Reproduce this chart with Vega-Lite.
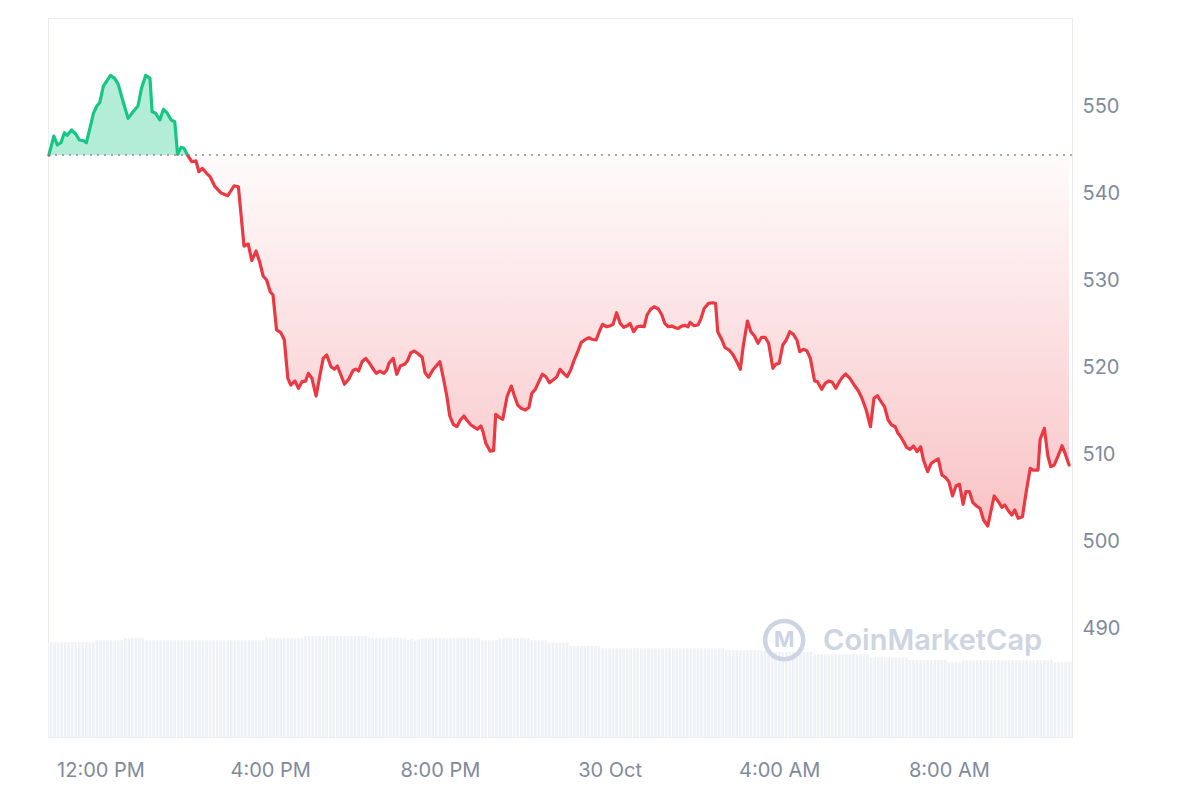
{
  "$schema": "https://vega.github.io/schema/vega-lite/v6.json",
  "width": 1024,
  "height": 719,
  "padding": {"left": 47, "top": 18, "right": 0, "bottom": 0},
  "background": "white",
  "datasets": {
    "price": [
      {"minute":647,"p":544.43},{"minute":654,"p":546.61},{"minute":659,"p":545.58},{"minute":664,"p":545.84},{"minute":669,"p":546.99},{"minute":673,"p":546.69},{"minute":679,"p":547.30},{"minute":685,"p":546.84},{"minute":690,"p":546.15},{"minute":696,"p":546.07},{"minute":700,"p":545.84},{"minute":705,"p":547.50},{"minute":710,"p":549.22},{"minute":715,"p":550.09},{"minute":719,"p":550.44},{"minute":724,"p":552.35},{"minute":729,"p":552.93},{"minute":734,"p":553.58},{"minute":740,"p":553.24},{"minute":745,"p":552.58},{"minute":752,"p":550.55},{"minute":759,"p":548.64},{"minute":766,"p":549.40},{"minute":773,"p":550.06},{"minute":778,"p":552.09},{"minute":784,"p":553.58},{"minute":790,"p":553.24},{"minute":793,"p":549.40},{"minute":798,"p":549.22},{"minute":804,"p":548.45},{"minute":809,"p":549.68},{"minute":814,"p":549.29},{"minute":820,"p":548.45},{"minute":825,"p":548.25},{"minute":829,"p":544.51},{"minute":834,"p":545.31},{"minute":838,"p":545.20},{"minute":844,"p":544.30},{"minute":849,"p":543.66},{"minute":855,"p":543.77},{"minute":859,"p":542.51},{"minute":864,"p":542.90},{"minute":870,"p":542.33},{"minute":875,"p":541.94},{"minute":882,"p":540.79},{"minute":890,"p":540.10},{"minute":900,"p":539.75},{"minute":909,"p":540.90},{"minute":915,"p":540.79},{"minute":923,"p":533.97},{"minute":929,"p":534.20},{"minute":934,"p":532.29},{"minute":940,"p":533.40},{"minute":945,"p":532.17},{"minute":950,"p":530.53},{"minute":955,"p":530.07},{"minute":960,"p":528.72},{"minute":964,"p":528.35},{"minute":969,"p":524.33},{"minute":975,"p":524.02},{"minute":980,"p":523.18},{"minute":985,"p":518.78},{"minute":989,"p":518.01},{"minute":995,"p":518.47},{"minute":1000,"p":517.63},{"minute":1005,"p":518.39},{"minute":1010,"p":518.45},{"minute":1014,"p":519.35},{"minute":1019,"p":518.78},{"minute":1025,"p":516.74},{"minute":1030,"p":518.96},{"minute":1035,"p":521.07},{"minute":1040,"p":521.45},{"minute":1046,"p":520.11},{"minute":1051,"p":519.81},{"minute":1055,"p":520.19},{"minute":1060,"p":519.16},{"minute":1065,"p":518.09},{"minute":1071,"p":518.66},{"minute":1077,"p":519.65},{"minute":1081,"p":519.84},{"minute":1085,"p":519.61},{"minute":1090,"p":520.68},{"minute":1095,"p":521.07},{"minute":1100,"p":520.57},{"minute":1105,"p":519.93},{"minute":1110,"p":519.35},{"minute":1115,"p":519.61},{"minute":1121,"p":519.35},{"minute":1125,"p":519.73},{"minute":1128,"p":520.50},{"minute":1134,"p":521.07},{"minute":1139,"p":519.24},{"minute":1144,"p":520.19},{"minute":1150,"p":520.38},{"minute":1154,"p":520.76},{"minute":1159,"p":521.72},{"minute":1164,"p":521.91},{"minute":1170,"p":521.53},{"minute":1175,"p":521.19},{"minute":1179,"p":519.42},{"minute":1184,"p":518.89},{"minute":1190,"p":519.73},{"minute":1196,"p":520.30},{"minute":1200,"p":520.68},{"minute":1205,"p":518.78},{"minute":1210,"p":516.66},{"minute":1214,"p":514.45},{"minute":1219,"p":513.49},{"minute":1224,"p":513.22},{"minute":1229,"p":513.99},{"minute":1234,"p":514.45},{"minute":1238,"p":513.99},{"minute":1244,"p":513.41},{"minute":1249,"p":513.15},{"minute":1253,"p":512.92},{"minute":1258,"p":513.30},{"minute":1261,"p":512.64},{"minute":1265,"p":511.31},{"minute":1271,"p":510.42},{"minute":1276,"p":510.46},{"minute":1279,"p":514.64},{"minute":1284,"p":514.30},{"minute":1289,"p":514.07},{"minute":1295,"p":516.66},{"minute":1301,"p":517.89},{"minute":1305,"p":516.86},{"minute":1310,"p":515.71},{"minute":1315,"p":515.33},{"minute":1321,"p":515.13},{"minute":1326,"p":515.44},{"minute":1330,"p":517.05},{"minute":1335,"p":517.51},{"minute":1340,"p":518.39},{"minute":1345,"p":519.24},{"minute":1350,"p":518.96},{"minute":1355,"p":518.27},{"minute":1360,"p":518.58},{"minute":1365,"p":518.89},{"minute":1370,"p":519.81},{"minute":1375,"p":519.35},{"minute":1380,"p":518.96},{"minute":1385,"p":519.73},{"minute":1390,"p":520.88},{"minute":1395,"p":521.83},{"minute":1400,"p":522.91},{"minute":1407,"p":523.29},{"minute":1411,"p":523.44},{"minute":1415,"p":523.26},{"minute":1421,"p":523.18},{"minute":1426,"p":524.24},{"minute":1430,"p":524.98},{"minute":1436,"p":524.70},
      {"minute":1441,"p":524.82},{"minute":1445,"p":524.98},{"minute":1450,"p":526.31},{"minute":1455,"p":525.09},{"minute":1460,"p":524.64},{"minute":1465,"p":524.82},{"minute":1469,"p":525.09},{"minute":1474,"p":524.13},{"minute":1479,"p":524.70},{"minute":1484,"p":524.78},{"minute":1489,"p":524.70},{"minute":1493,"p":526.05},{"minute":1498,"p":526.70},{"minute":1503,"p":527.00},{"minute":1509,"p":526.74},{"minute":1514,"p":526.05},{"minute":1518,"p":525.09},{"minute":1523,"p":524.70},{"minute":1528,"p":524.78},{"minute":1533,"p":524.59},{"minute":1537,"p":524.52},{"minute":1542,"p":524.78},{"minute":1547,"p":524.86},{"minute":1551,"p":524.70},{"minute":1554,"p":525.21},{"minute":1559,"p":524.82},{"minute":1565,"p":524.90},{"minute":1569,"p":525.55},{"minute":1574,"p":526.82},{"minute":1580,"p":527.39},{"minute":1586,"p":527.46},{"minute":1590,"p":527.39},{"minute":1593,"p":524.13},{"minute":1599,"p":523.18},{"minute":1603,"p":522.34},{"minute":1609,"p":522.03},{"minute":1614,"p":521.57},{"minute":1620,"p":520.68},{"minute":1625,"p":519.81},{"minute":1629,"p":522.41},{"minute":1635,"p":525.36},{"minute":1640,"p":524.13},{"minute":1645,"p":523.64},{"minute":1650,"p":522.80},{"minute":1655,"p":523.49},{"minute":1660,"p":523.49},{"minute":1665,"p":522.80},{"minute":1671,"p":519.93},{"minute":1675,"p":520.38},{"minute":1680,"p":520.50},{"minute":1685,"p":522.60},{"minute":1690,"p":523.18},{"minute":1695,"p":524.13},{"minute":1700,"p":523.83},{"minute":1705,"p":523.18},{"minute":1709,"p":521.83},{"minute":1714,"p":522.11},{"minute":1719,"p":521.95},{"minute":1724,"p":521.07},{"minute":1730,"p":518.47},{"minute":1734,"p":518.39},{"minute":1740,"p":517.51},{"minute":1745,"p":518.20},{"minute":1750,"p":518.47},{"minute":1755,"p":518.32},{"minute":1760,"p":517.63},{"minute":1765,"p":518.39},{"minute":1770,"p":518.96},{"minute":1774,"p":519.27},{"minute":1780,"p":518.78},{"minute":1786,"p":518.01},{"minute":1792,"p":517.32},{"minute":1797,"p":516.48},{"minute":1803,"p":515.13},{"minute":1809,"p":513.22},{"minute":1814,"p":516.48},{"minute":1819,"p":516.78},{"minute":1824,"p":516.09},{"minute":1829,"p":515.51},{"minute":1834,"p":513.99},{"minute":1839,"p":513.41},{"minute":1844,"p":513.22},{"minute":1848,"p":512.46},{"minute":1851,"p":512.15},{"minute":1856,"p":511.49},{"minute":1860,"p":510.85},{"minute":1865,"p":510.62},{"minute":1870,"p":511.00},{"minute":1875,"p":510.35},{"minute":1880,"p":510.92},{"minute":1884,"p":509.39},{"minute":1890,"p":508.05},{"minute":1895,"p":509.01},{"minute":1900,"p":509.28},{"minute":1905,"p":509.51},{"minute":1910,"p":507.67},{"minute":1915,"p":507.40},{"minute":1920,"p":506.90},{"minute":1925,"p":505.26},{"minute":1930,"p":506.40},{"minute":1935,"p":506.60},{"minute":1940,"p":504.30},{"minute":1944,"p":505.75},{"minute":1949,"p":505.75},{"minute":1954,"p":504.49},{"minute":1959,"p":504.11},{"minute":1964,"p":503.84},{"minute":1969,"p":502.50},{"minute":1975,"p":501.81},{"minute":1980,"p":503.73},{"minute":1984,"p":505.26},{"minute":1989,"p":504.72},{"minute":1995,"p":503.96},{"minute":1999,"p":504.22},{"minute":2004,"p":503.57},{"minute":2009,"p":503.07},{"minute":2013,"p":503.65},{"minute":2018,"p":502.69},{"minute":2024,"p":502.88},{"minute":2029,"p":505.57},{"minute":2035,"p":508.44},{"minute":2039,"p":508.24},{"minute":2046,"p":508.24},{"minute":2049,"p":511.77},{"minute":2055,"p":513.03},{"minute":2060,"p":509.85},{"minute":2064,"p":508.62},{"minute":2069,"p":508.82},{"minute":2074,"p":509.77},{"minute":2080,"p":511.03},{"minute":2084,"p":510.23},{"minute":2090,"p":508.82}
    ],
    "volume": [
      {"minute":645,"v":131.7},{"minute":650,"v":131.7},{"minute":655,"v":131.7},{"minute":660,"v":131.7},{"minute":665,"v":131.7},{"minute":670,"v":131.7},{"minute":675,"v":131.7},{"minute":680,"v":131.7},{"minute":685,"v":131.7},{"minute":690,"v":131.7},{"minute":695,"v":131.7},{"minute":700,"v":131.7},{"minute":705,"v":131.7},{"minute":710,"v":131.7},
      {"minute":715,"v":134.5},{"minute":720,"v":134.5},{"minute":725,"v":134.5},{"minute":730,"v":134.5},{"minute":735,"v":134.5},{"minute":740,"v":134.5},{"minute":745,"v":134.5},{"minute":750,"v":134.5},
      {"minute":755,"v":137.3},{"minute":760,"v":137.3},{"minute":765,"v":137.3},{"minute":770,"v":137.3},{"minute":775,"v":137.3},{"minute":780,"v":137.3},
      {"minute":785,"v":134.5},{"minute":790,"v":134.5},{"minute":795,"v":134.5},{"minute":800,"v":134.5},{"minute":805,"v":134.5},{"minute":810,"v":134.5},{"minute":815,"v":134.5},{"minute":820,"v":134.5},{"minute":825,"v":134.5},{"minute":830,"v":134.5},{"minute":835,"v":134.5},{"minute":840,"v":134.5},{"minute":845,"v":134.5},{"minute":850,"v":134.5},{"minute":855,"v":134.5},{"minute":860,"v":134.5},{"minute":865,"v":134.5},{"minute":870,"v":134.5},{"minute":875,"v":134.5},{"minute":880,"v":134.5},{"minute":885,"v":134.5},{"minute":890,"v":134.5},{"minute":895,"v":134.5},{"minute":900,"v":134.5},{"minute":905,"v":134.5},{"minute":910,"v":134.5},{"minute":915,"v":134.5},{"minute":920,"v":134.5},{"minute":925,"v":134.5},{"minute":930,"v":134.5},{"minute":935,"v":134.5},{"minute":940,"v":134.5},{"minute":945,"v":134.5},{"minute":950,"v":134.5},
      {"minute":955,"v":137.3},{"minute":960,"v":137.3},{"minute":965,"v":137.3},{"minute":970,"v":137.3},{"minute":975,"v":137.3},{"minute":980,"v":137.3},{"minute":985,"v":137.3},{"minute":990,"v":137.3},{"minute":995,"v":137.3},{"minute":1000,"v":137.3},{"minute":1005,"v":137.3},
      {"minute":1010,"v":140.5},{"minute":1015,"v":140.5},{"minute":1020,"v":140.5},{"minute":1025,"v":140.5},{"minute":1030,"v":140.5},{"minute":1035,"v":140.5},{"minute":1040,"v":140.5},{"minute":1045,"v":140.5},{"minute":1050,"v":140.5},{"minute":1055,"v":140.5},{"minute":1060,"v":140.5},{"minute":1065,"v":140.5},{"minute":1070,"v":140.5},{"minute":1075,"v":140.5},{"minute":1080,"v":140.5},{"minute":1085,"v":140.5},{"minute":1090,"v":140.5},{"minute":1095,"v":140.5},
      {"minute":1100,"v":138.1},{"minute":1105,"v":138.1},{"minute":1110,"v":138.1},{"minute":1115,"v":138.1},{"minute":1120,"v":138.1},{"minute":1125,"v":138.1},{"minute":1130,"v":138.1},{"minute":1135,"v":138.1},{"minute":1140,"v":138.1},{"minute":1145,"v":138.1},
      {"minute":1150,"v":137.0},{"minute":1155,"v":135.0},{"minute":1160,"v":137.0},{"minute":1165,"v":134.0},{"minute":1170,"v":136.0},{"minute":1175,"v":137.0},
      {"minute":1180,"v":137.3},{"minute":1185,"v":137.3},{"minute":1190,"v":137.3},{"minute":1195,"v":137.3},{"minute":1200,"v":137.3},{"minute":1205,"v":137.3},{"minute":1210,"v":137.3},{"minute":1215,"v":137.3},{"minute":1220,"v":137.3},{"minute":1225,"v":137.3},{"minute":1230,"v":137.3},{"minute":1235,"v":137.3},{"minute":1240,"v":137.3},{"minute":1245,"v":137.3},{"minute":1250,"v":137.3},{"minute":1255,"v":137.3},
      {"minute":1260,"v":134.5},{"minute":1265,"v":134.5},{"minute":1270,"v":134.5},{"minute":1275,"v":134.5},{"minute":1280,"v":134.5},
      {"minute":1285,"v":137.3},{"minute":1290,"v":137.3},{"minute":1295,"v":137.3},{"minute":1300,"v":137.3},{"minute":1305,"v":137.3},{"minute":1310,"v":137.3},{"minute":1315,"v":137.3},{"minute":1320,"v":137.3},{"minute":1325,"v":137.3},
      {"minute":1330,"v":134.5},{"minute":1335,"v":134.5},{"minute":1340,"v":134.5},{"minute":1345,"v":134.5},{"minute":1350,"v":134.5},
      {"minute":1355,"v":131.2},{"minute":1360,"v":131.2},{"minute":1365,"v":131.2},{"minute":1370,"v":131.2},{"minute":1375,"v":131.2},{"minute":1380,"v":131.2},
      {"minute":1385,"v":126.6},{"minute":1390,"v":126.6},{"minute":1395,"v":126.6},{"minute":1400,"v":126.6},{"minute":1405,"v":126.6},{"minute":1410,"v":126.6},{"minute":1415,"v":126.6},{"minute":1420,"v":126.6},{"minute":1425,"v":126.6},
      {"minute":1430,"v":123.4},{"minute":1435,"v":123.4},{"minute":1440,"v":123.4},{"minute":1445,"v":123.4},{"minute":1450,"v":123.4},{"minute":1455,"v":123.4},{"minute":1460,"v":123.4},{"minute":1465,"v":123.4},{"minute":1470,"v":123.4},{"minute":1475,"v":123.4},{"minute":1480,"v":123.4},{"minute":1485,"v":123.4},{"minute":1490,"v":123.4},{"minute":1495,"v":123.4},{"minute":1500,"v":123.4},{"minute":1505,"v":123.4},{"minute":1510,"v":123.4},{"minute":1515,"v":123.4},{"minute":1520,"v":123.4},{"minute":1525,"v":123.4},{"minute":1530,"v":123.4},{"minute":1535,"v":123.4},{"minute":1540,"v":123.4},{"minute":1545,"v":123.4},{"minute":1550,"v":123.4},{"minute":1555,"v":123.4},{"minute":1560,"v":123.4},{"minute":1565,"v":123.4},{"minute":1570,"v":123.4},{"minute":1575,"v":123.4},{"minute":1580,"v":123.4},{"minute":1585,"v":123.4},{"minute":1590,"v":123.4},{"minute":1595,"v":123.4},{"minute":1600,"v":123.4},
      {"minute":1605,"v":120.6},{"minute":1610,"v":120.6},{"minute":1615,"v":120.6},{"minute":1620,"v":120.6},{"minute":1625,"v":120.6},{"minute":1630,"v":120.6},{"minute":1635,"v":120.6},{"minute":1640,"v":120.6},{"minute":1645,"v":120.6},{"minute":1650,"v":120.6},{"minute":1655,"v":120.6},{"minute":1660,"v":120.6},
      {"minute":1665,"v":118.2},{"minute":1670,"v":118.2},{"minute":1675,"v":118.2},{"minute":1680,"v":118.2},{"minute":1685,"v":118.2},{"minute":1690,"v":118.2},{"minute":1695,"v":118.2},{"minute":1700,"v":118.2},{"minute":1705,"v":118.2},{"minute":1710,"v":118.2},{"minute":1715,"v":118.2},{"minute":1720,"v":118.2},{"minute":1725,"v":118.2},
      {"minute":1730,"v":115.0},{"minute":1735,"v":115.0},{"minute":1740,"v":115.0},{"minute":1745,"v":115.0},{"minute":1750,"v":115.0},{"minute":1755,"v":115.0},{"minute":1760,"v":115.0},{"minute":1765,"v":115.0},{"minute":1770,"v":115.0},{"minute":1775,"v":115.0},{"minute":1780,"v":115.0},{"minute":1785,"v":115.0},{"minute":1790,"v":115.0},{"minute":1795,"v":115.0},{"minute":1800,"v":115.0},{"minute":1805,"v":115.0},
      {"minute":1810,"v":110.8},{"minute":1815,"v":110.8},{"minute":1820,"v":110.8},{"minute":1825,"v":110.8},{"minute":1830,"v":110.8},{"minute":1835,"v":110.8},{"minute":1840,"v":110.8},{"minute":1845,"v":110.8},{"minute":1850,"v":110.8},{"minute":1855,"v":110.8},{"minute":1860,"v":110.8},
      {"minute":1865,"v":107.1},{"minute":1870,"v":107.1},{"minute":1875,"v":107.1},{"minute":1880,"v":107.1},{"minute":1885,"v":107.1},{"minute":1890,"v":107.1},{"minute":1895,"v":107.1},{"minute":1900,"v":107.1},{"minute":1905,"v":107.1},{"minute":1910,"v":107.1},{"minute":1915,"v":107.1},
      {"minute":1920,"v":103.9},{"minute":1925,"v":103.9},{"minute":1930,"v":103.9},{"minute":1935,"v":103.9},
      {"minute":1940,"v":106.7},{"minute":1945,"v":106.7},{"minute":1950,"v":106.7},{"minute":1955,"v":106.7},{"minute":1960,"v":106.7},{"minute":1965,"v":106.7},{"minute":1970,"v":106.7},{"minute":1975,"v":106.7},{"minute":1980,"v":106.7},{"minute":1985,"v":106.7},{"minute":1990,"v":106.7},{"minute":1995,"v":106.7},{"minute":2000,"v":106.7},{"minute":2005,"v":106.7},{"minute":2010,"v":106.7},{"minute":2015,"v":106.7},{"minute":2020,"v":106.7},{"minute":2025,"v":106.7},{"minute":2030,"v":106.7},{"minute":2035,"v":106.7},{"minute":2040,"v":106.7},{"minute":2045,"v":106.7},{"minute":2050,"v":106.7},{"minute":2055,"v":106.7},{"minute":2060,"v":106.7},{"minute":2065,"v":106.7},
      {"minute":2070,"v":103.9},{"minute":2075,"v":103.9},{"minute":2080,"v":103.9},{"minute":2085,"v":103.9},{"minute":2090,"v":103.9},{"minute":2095,"v":103.9}
    ],
    "marks": [
      {"mlogo":1687,"plogo":488.7,"mtext":1742,"ptext":488.6,"base":544.43}
    ]
  },
  "layer": [
    {
      "data": {"name": "volume"},
      "mark": {"type": "bar", "width": 2.6, "color": "#eef1f5", "clip": true},
      "encoding": {
        "x": {"field": "minute", "type": "quantitative",
          "scale": {"domain": [645.74, 2094.1], "nice": false, "zero": false, "padding": 0},
          "axis": {"title": null, "values": [720, 960, 1200, 1440, 1680, 1920],
            "labelExpr": "datum.value == 1440 ? '30 Oct' : ((floor(datum.value / 60) % 12 == 0 ? 12 : floor(datum.value / 60) % 12) + ':00 ' + (floor(datum.value / 60) % 24 < 12 ? 'AM' : 'PM'))"}},
        "y": {"field": "v", "type": "quantitative", "scale": {"domain": [0, 1000]}, "axis": null}
      }
    },
    {
      "layer": [
        {
          "data": {"name": "price"},
          "mark": {"type": "area", "interpolate": "linear",
            "fill": {"gradient": "linear", "x1": 0, "y1": 0, "x2": 0, "y2": 1,
              "stops": [
                {"offset": 0, "color": "rgba(22,199,132,0.32)"},
                {"offset": 0.1767, "color": "rgba(22,199,132,0.32)"},
                {"offset": 0.1767, "color": "rgba(234,57,67,0.02)"},
                {"offset": 1, "color": "rgba(234,57,67,0.30)"}
              ]}},
          "encoding": {
            "x": {"field": "minute", "type": "quantitative", "scale": {"domain": [645.74, 2094.1], "nice": false, "zero": false, "padding": 0}},
            "y": {"field": "p", "type": "quantitative",
              "scale": {"domain": [477.57, 560.17], "nice": false, "zero": false}},
            "y2": {"datum": 544.43}
          }
        },
        {
          "data": {"name": "marks"},
          "mark": {"type": "rule", "strokeDash": [2, 5], "color": "#8c8c8c", "strokeWidth": 1.6},
          "encoding": {"y": {"field": "base", "type": "quantitative",
              "scale": {"domain": [477.57, 560.17], "nice": false, "zero": false}}}
        },
        {
          "data": {"name": "price"},
          "mark": {"type": "line", "interpolate": "linear", "strokeWidth": 3.2, "strokeJoin": "round", "strokeCap": "round",
            "stroke": {"gradient": "linear", "x1": 0, "y1": 0, "x2": 0, "y2": 1,
              "stops": [
                {"offset": 0, "color": "#16c784"},
                {"offset": 0.1767, "color": "#16c784"},
                {"offset": 0.1767, "color": "#ea3943"},
                {"offset": 1, "color": "#ea3943"}
              ]}},
          "encoding": {
            "x": {"field": "minute", "type": "quantitative", "scale": {"domain": [645.74, 2094.1], "nice": false, "zero": false, "padding": 0}},
            "y": {"field": "p", "type": "quantitative",
              "scale": {"domain": [477.57, 560.17], "nice": false, "zero": false},
              "axis": {"title": null, "orient": "right", "values": [490, 500, 510, 520, 530, 540, 550]}}
          }
        },
        {
          "data": {"name": "marks"},
          "mark": {"type": "point", "shape": "circle", "size": 1450, "filled": false, "stroke": "#cdd4e2", "strokeWidth": 4.5, "opacity": 1},
          "encoding": {
            "x": {"field": "mlogo", "type": "quantitative", "scale": {"domain": [645.74, 2094.1], "nice": false, "zero": false, "padding": 0}},
            "y": {"field": "plogo", "type": "quantitative",
              "scale": {"domain": [477.57, 560.17], "nice": false, "zero": false}}
          }
        },
        {
          "data": {"name": "marks"},
          "mark": {"type": "text", "text": "M", "font": "Inter", "fontSize": 22, "fontWeight": 700, "color": "#cdd4e2", "align": "center", "baseline": "middle"},
          "encoding": {
            "x": {"field": "mlogo", "type": "quantitative", "scale": {"domain": [645.74, 2094.1], "nice": false, "zero": false, "padding": 0}},
            "y": {"field": "plogo", "type": "quantitative",
              "scale": {"domain": [477.57, 560.17], "nice": false, "zero": false}}
          }
        },
        {
          "data": {"name": "marks"},
          "mark": {"type": "text", "text": "CoinMarketCap", "font": "Inter", "fontSize": 29, "fontWeight": 600, "color": "#cdd4e2", "align": "left", "baseline": "middle"},
          "encoding": {
            "x": {"field": "mtext", "type": "quantitative", "scale": {"domain": [645.74, 2094.1], "nice": false, "zero": false, "padding": 0}},
            "y": {"field": "ptext", "type": "quantitative",
              "scale": {"domain": [477.57, 560.17], "nice": false, "zero": false}}
          }
        }
      ]
    }
  ],
  "resolve": {"scale": {"y": "independent"}},
  "config": {
    "view": {"stroke": "#e9ecf0", "strokeWidth": 1},
    "axis": {"labelFont": "Inter", "labelFontSize": 20, "labelColor": "#808a9d", "domain": false, "ticks": false, "tickSize": 0},
    "axisX": {"grid": false, "labelPadding": 23, "labelFlush": false, "labelOverlap": false},
    "axisY": {"gridColor": "#eff2f5", "gridWidth": 1, "labelPadding": 10}
  }
}
